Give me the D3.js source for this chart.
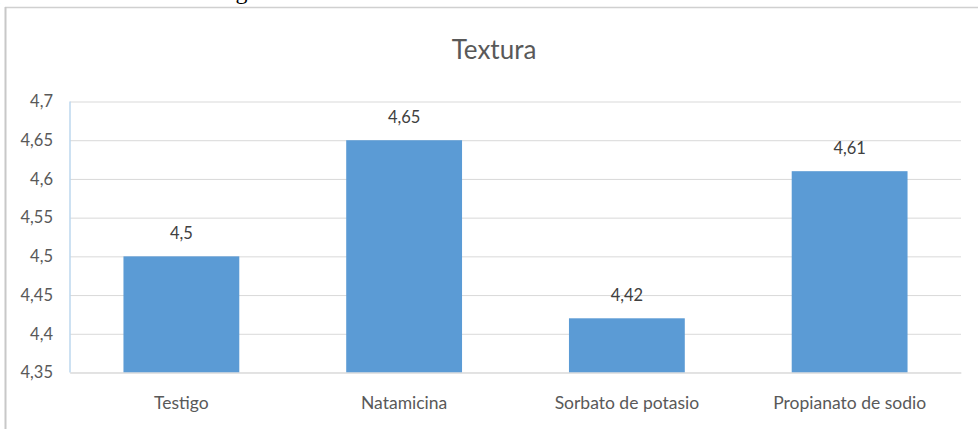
<!DOCTYPE html>
<html><head><meta charset="utf-8">
<script src="https://cdn.jsdelivr.net/npm/d3@7"></script>
<style>body{margin:0;background:#fff;overflow:hidden}</style>
</head><body>
<svg id="c" width="978" height="429"></svg>
<script>
const categories = ["Testigo", "Natamicina", "Sorbato de potasio", "Propianato de sodio"];
const values = [4.5, 4.65, 4.42, 4.61];
const yTicks = [4.35, 4.4, 4.45, 4.5, 4.55, 4.6, 4.65, 4.7];
const title = "Textura";

const fmt = v => String(+v.toFixed(2)).replace(".", ",");
const svg = d3.select("#c");
const font = "Lato, 'Open Sans', sans-serif";

// cut-off text from the page above (only its lowest part shows)
svg.append("text").attr("x", -6).attr("y", -1).attr("font-family", "'Liberation Serif', serif")
  .attr("font-size", 24).attr("fill", "#000").text("potasio. Ver también la figura 3.");

// frame
svg.append("line").attr("x1", 5).attr("x2", 978).attr("y1", 7.5).attr("y2", 7.5).attr("stroke", "#d0d0d0").attr("stroke-width", 1.5);
svg.append("line").attr("x1", 5.5).attr("x2", 5.5).attr("y1", 7).attr("y2", 429).attr("stroke", "#c8c8c8").attr("stroke-width", 2);

const m = {l: 70, r: 961, t: 101.5, b: 372.5};
const x = d3.scaleBand().domain(categories).range([m.l, m.r]).paddingInner(0.48).paddingOuter(0.24);
const y = d3.scaleLinear().domain([4.35, 4.7]).range([m.b, m.t]);

// gridlines + y labels
const yAxis = d3.axisLeft(y).tickValues(yTicks).tickSize(-(m.r - m.l)).tickFormat(fmt);
const ga = svg.append("g").attr("transform", `translate(${m.l},0)`).call(yAxis);
ga.select(".domain").remove();
ga.selectAll(".tick line").attr("stroke", "#d9d9d9").attr("stroke-width", 1);
ga.selectAll(".tick text").attr("font-family", font).attr("font-size", 16.5).attr("fill", "#595959").attr("x", -17);
svg.append("line").attr("x1", m.l).attr("x2", m.l).attr("y1", m.t).attr("y2", m.b).attr("stroke", "#bdd7ee").attr("stroke-width", 1.5);

// bars
svg.selectAll("rect.bar").data(categories).join("rect").attr("class", "bar")
  .attr("x", d => x(d)).attr("width", x.bandwidth())
  .attr("y", (d, i) => y(values[i])).attr("height", (d, i) => y(4.35) - y(values[i]))
  .attr("fill", "#5b9bd5");

// value labels
svg.selectAll("text.val").data(categories).join("text").attr("class", "val")
  .attr("x", d => x(d) + x.bandwidth() / 2).attr("y", (d, i) => y(values[i]) - 17)
  .attr("text-anchor", "middle").attr("font-family", font).attr("font-size", 16.5).attr("fill", "#404040")
  .text((d, i) => fmt(values[i]));

// x axis
const xAxis = d3.axisBottom(x).tickSize(0).tickPadding(24);
const gx = svg.append("g").attr("transform", `translate(0,${m.b})`).call(xAxis);
gx.select(".domain").attr("stroke", "#d9d9d9");
gx.selectAll(".tick text").attr("font-family", font).attr("font-size", 17.5).attr("fill", "#595959");

svg.append("text").attr("x", 494).attr("y", 59).attr("text-anchor", "middle")
  .attr("font-family", font).attr("font-size", 26).attr("fill", "#595959").text(title);
</script>
</body></html>
